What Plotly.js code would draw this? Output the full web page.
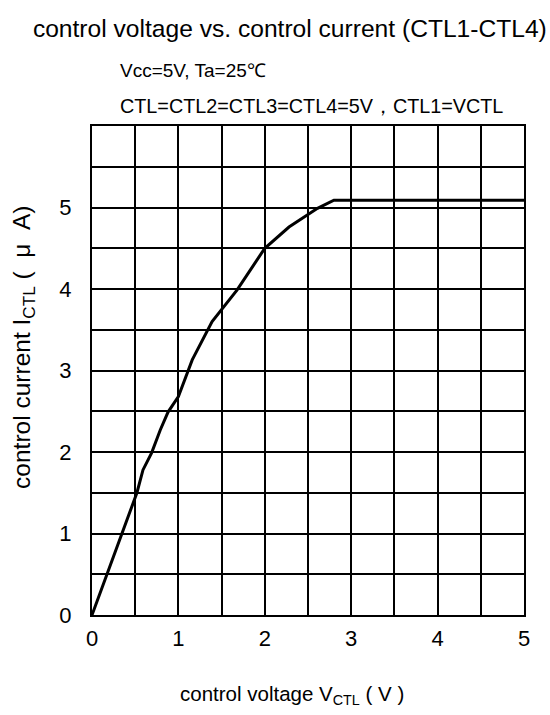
<!DOCTYPE html>
<html>
<head>
<meta charset="utf-8">
<script src="https://cdn.plot.ly/plotly-3.0.1.min.js"></script>
<style>html,body{margin:0;padding:0;background:#fff;}#chart{width:550px;height:715px;}</style>
</head>
<body>
<div id="chart"></div>
<script>
// Data
const vctl = [0, 0.52, 0.59, 0.69, 0.79, 0.88, 1.0, 1.16, 1.39, 1.68, 2.0, 2.28, 2.61, 2.8, 5.0];
const ictl = [0, 1.5, 1.78, 1.99, 2.27, 2.49, 2.68, 3.13, 3.6, 3.99, 4.5, 4.76, 4.99, 5.09, 5.09];

const xTickVals = [0, 1, 2, 3, 4, 5];
const xTickText = ['0', '1', '2', '3', '4', '5'];
const yTickVals = [0, 1, 2, 3, 4, 5];
const yTickText = ['0', '1', '2', '3', '4', '5'];

const font = '"Liberation Sans", Arial, sans-serif';
const nb = '\u00a0';

const trace = {
  x: vctl, y: ictl, mode: 'lines', type: 'scatter',
  line: {color: '#000', width: 3}, hoverinfo: 'skip'
};

const layout = {
  width: 550, height: 715,
  margin: {l: 92, r: 26, t: 126, b: 100},
  paper_bgcolor: '#fff', plot_bgcolor: '#fff',
  showlegend: false,
  title: {
    text: 'control voltage vs. control current (CTL1-CTL4)',
    font: {family: font, size: 24.6, color: '#000'},
    x: 0.527, xanchor: 'center', y: 0.96, yanchor: 'middle'
  },
  annotations: [
    {text: 'Vcc=5V, Ta=25\u2103', xref: 'paper', yref: 'paper', x: 0.06, y: 1.1145,
     xanchor: 'left', yanchor: 'middle', showarrow: false,
     font: {family: font, size: 19, color: '#000'}},
    {text: 'CTL=CTL2=CTL3=CTL4=5V\uff0cCTL1=VCTL', xref: 'paper', yref: 'paper', x: 0.06, y: 1.041,
     xanchor: 'left', yanchor: 'middle', showarrow: false,
     font: {family: font, size: 19.8, color: '#000'}},
    {text: 'control voltage V<sub>CTL</sub>' + nb + '(' + nb + 'V' + nb + ')', xref: 'paper', yref: 'paper',
     x: 0.463, y: -0.164, xanchor: 'center', yanchor: 'middle', showarrow: false,
     font: {family: font, size: 20.5, color: '#000'}},
    {text: 'control current I<sub>CTL</sub>' + nb + '(' + nb + nb + '\u03bc' + nb + nb + 'A)', xref: 'paper', yref: 'paper',
     x: -0.16, y: 0.548, xanchor: 'center', yanchor: 'middle', showarrow: false, textangle: -90,
     font: {family: font, size: 24.5, color: '#000'}}
  ],
  xaxis: {
    range: [0, 5], tickmode: 'array', tickvals: xTickVals, ticktext: xTickText,
    showgrid: true, gridcolor: '#000', gridwidth: 2,
    minor: {dtick: 0.5, showgrid: true, gridcolor: '#000', gridwidth: 2},
    showline: true, linecolor: '#000', linewidth: 2, mirror: true,
    zeroline: false, ticks: '', ticklabelstandoff: 3,
    tickfont: {family: font, size: 22, color: '#000'}
  },
  yaxis: {
    range: [0, 6], tickmode: 'array', tickvals: yTickVals, ticktext: yTickText,
    showgrid: true, gridcolor: '#000', gridwidth: 2,
    minor: {dtick: 0.5, showgrid: true, gridcolor: '#000', gridwidth: 2},
    showline: true, linecolor: '#000', linewidth: 2, mirror: true,
    zeroline: false, ticks: '', ticklabelstandoff: 14,
    tickfont: {family: font, size: 22, color: '#000'}
  }
};

Plotly.newPlot('chart', [trace], layout, {staticPlot: true, displayModeBar: false});
</script>
</body>
</html>
